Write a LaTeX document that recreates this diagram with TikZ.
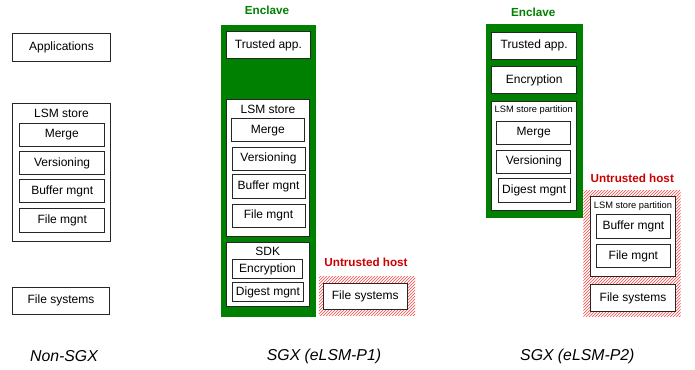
\documentclass[tikz,border=0pt]{standalone}
\usepackage{fontspec}
\setmainfont{Liberation Sans}
\usetikzlibrary{patterns}
\definecolor{enclave}{RGB}{0,128,0}
\definecolor{untrusted}{RGB}{204,0,0}
\colorlet{fg}{black!85}
\colorlet{bg}{white}

\tikzset{
  box/.style={draw=fg, fill=bg, line width=0.9pt, inner sep=0pt,
    font=\fontsize{12}{14}\selectfont},
  title/.style={inner sep=0pt, font=\fontsize{12}{14}\selectfont},
  smalltitle/.style={inner sep=0pt, font=\fontsize{9.3}{11}\selectfont},
  zone/.style={inner sep=0pt, font=\fontsize{11.7}{14}\bfseries\selectfont},
  caption/.style={inner sep=0pt, font=\fontsize{15.8}{18}\itshape\selectfont},
  hatch/.style={pattern=north east lines, pattern color=red!75}
}

\begin{document}
\begin{tikzpicture}[x=1pt, y=-1pt]
    \useasboundingbox (0,0) rectangle (695,369);
    % Non-SGX
    \node[box, minimum width=97.6, minimum height=27.3] (apps) at (61.5,47.4) {Applications};
    \node[box, minimum width=97.6, minimum height=137.3] (lsmA) at (61.5,172.4) {};
    \node[title] (lsmAt) at (61.5,113) {LSM store};
    \node[box, minimum width=85, minimum height=23] (mergeA) at (61.8,134.5) {Merge};
    \node[box, minimum width=85, minimum height=23] (versA) at (62.1,163.2) {Versioning};
    \node[box, minimum width=85, minimum height=23.4] (bufA) at (62.2,191) {Buffer mgnt};
    \node[box, minimum width=85, minimum height=23.3] (fileA) at (62.2,220.4) {File mgnt};
    \node[box, minimum width=97.4, minimum height=27] (fsA) at (61,300.8) {File systems};
    \node[caption] (capA) at (64,356) {Non-SGX};

    % SGX (eLSM-P1)
    \fill[enclave] (221,25) rectangle (316,316.7);
    \fill[hatch] (319,276.3) rectangle (415,315.7);
    \node[zone, text=enclave] (enclB) at (267,10.7) {Enclave};
    \node[zone, text=untrusted] (hostB) at (366,262) {Untrusted host};
    \node[box, minimum width=83.3, minimum height=26.6] (trustB) at (268.4,45) {Trusted app.};
    \node[box, minimum width=83.4, minimum height=137.3] (lsmB) at (268,167.7) {};
    \node[title] (lsmBt) at (268,109) {LSM store};
    \node[box, minimum width=73, minimum height=23] (mergeB) at (267.8,130.2) {Merge};
    \node[box, minimum width=73, minimum height=23] (versB) at (268.5,158.5) {Versioning};
    \node[box, minimum width=73, minimum height=23.3] (bufB) at (268.5,186.4) {Buffer mgnt};
    \node[box, minimum width=73, minimum height=23] (fileB) at (268.5,215.8) {File mgnt};
    \node[box, minimum width=83.3, minimum height=64.7] (sdkB) at (267.7,274.4) {};
    \node[title] (sdkBt) at (267.7,251) {SDK};
    \node[box, minimum width=70.4, minimum height=18.3] (encB) at (267.5,268.9) {Encryption};
    \node[box, minimum width=70.6, minimum height=19.4] (digB) at (268,292) {Digest mgnt};
    \node[box, minimum width=84.3, minimum height=26.4] (fsB) at (365.2,296.5) {File systems};
    \node[caption] (capB) at (324,356) {SGX (eLSM-P1)};

    % SGX (eLSM-P2)
    \fill[enclave] (486,24) rectangle (582.7,217.7);
    \fill[hatch] (583.3,190) rectangle (680.7,316.7);
    \node[zone, text=enclave] (enclC) at (533.3,12) {Enclave};
    \node[zone, text=untrusted] (hostC) at (632.3,178) {Untrusted host};
    \node[box, minimum width=85, minimum height=27] (trustC) at (534.2,45.5) {Trusted app.};
    \node[box, minimum width=85, minimum height=26.6] (encC) at (534.2,80) {Encryption};
    \node[box, minimum width=84.7, minimum height=109] (lsmC) at (533.7,156.2) {};
    \node[smalltitle] (lsmCt) at (533.7,109.7) {LSM store partition};
    \node[box, minimum width=74, minimum height=23] (mergeC) at (533.7,132.8) {Merge};
    \node[box, minimum width=74, minimum height=23] (versC) at (533.8,161.5) {Versioning};
    \node[box, minimum width=71.7, minimum height=24.7] (digC) at (534.2,190.4) {Digest mgnt};
    \node[box, minimum width=85.4, minimum height=80.7] (lsmD) at (633,236.4) {};
    \node[smalltitle] (lsmDt) at (633,205.7) {LSM store partition};
    \node[box, minimum width=74.7, minimum height=23.6] (bufD) at (633.4,226.5) {Buffer mgnt};
    \node[box, minimum width=74.7, minimum height=23.6] (fileD) at (633.4,255.9) {File mgnt};
    \node[box, minimum width=85.4, minimum height=26.3] (fsD) at (633,297.9) {File systems};
    \node[caption] (capC) at (577.3,356) {SGX (eLSM-P2)};
\end{tikzpicture}
\end{document}
